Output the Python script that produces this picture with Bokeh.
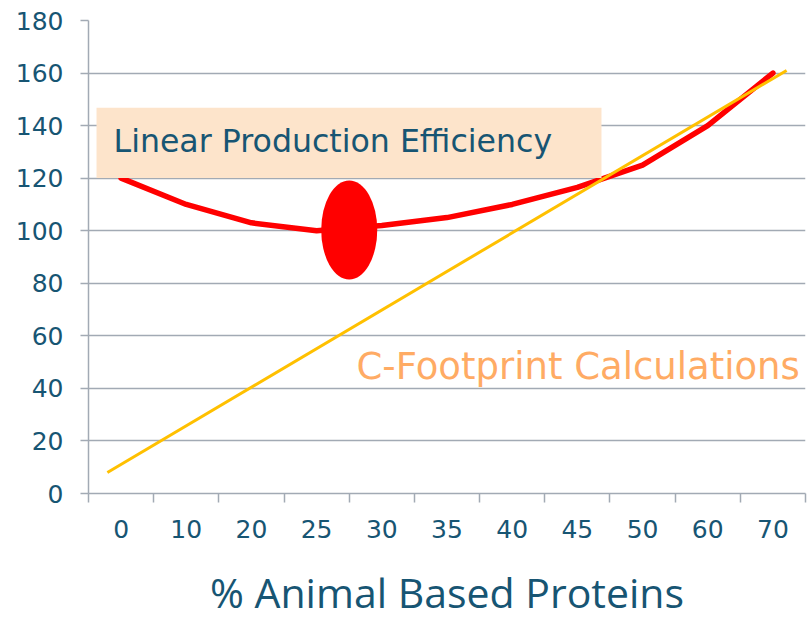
from bokeh.plotting import figure
from bokeh.models import Range1d, FixedTicker, BoxAnnotation, Label
from bokeh.layouts import column
from bokeh.core.properties import value
from bokeh.embed import file_html
from bokeh.resources import INLINE

# ---- data ----
categories = ["0", "10", "20", "25", "30", "35", "40", "45", "50", "60", "70"]
efficiency = [120, 110, 103, 100, 102, 105, 110, 116.5, 125, 140, 160]
footprint_x = [-0.21, 10.21]
footprint_y = [8, 161]
highlight_x = [3.5]
highlight_y = [100.3]
y_ticks = [0, 20, 40, 60, 80, 100, 120, 140, 160, 180]
x_title = "% Animal Based Proteins"

TEAL = "#175573"
GRID = "#A2AAB4"

idx = list(range(len(categories)))

p = figure(width=812, height=555, output_backend="svg", toolbar_location=None,
           x_range=Range1d(-0.5, len(categories) - 0.5), y_range=Range1d(0, 180),
           min_border_left=88, min_border_right=7, min_border_top=20,
           min_border_bottom=62)
p.outline_line_color = None
p.xgrid.visible = False
p.ygrid.ticker = FixedTicker(ticks=y_ticks)
p.ygrid.grid_line_color = GRID
p.ygrid.grid_line_width = 1.5

# x axis: labels at category centres, tick marks at category boundaries
xa = p.xaxis[0]
xa.ticker = FixedTicker(ticks=idx, minor_ticks=[i - 0.5 for i in range(len(categories) + 1)])
xa.major_label_overrides = {i: c for i, c in zip(idx, categories)}
xa.major_tick_out = 0
xa.major_tick_in = 0
xa.major_tick_line_color = None
xa.minor_tick_out = 9
xa.minor_tick_in = 0
xa.minor_tick_line_color = GRID
xa.minor_tick_line_width = 1.5
xa.axis_line_color = GRID
xa.axis_line_width = 1.5
xa.major_label_text_font = "DejaVu Sans"
xa.major_label_text_font_size = "25px"
xa.major_label_text_color = TEAL
xa.major_label_standoff = 17

ya = p.yaxis[0]
ya.ticker = FixedTicker(ticks=y_ticks)
ya.major_tick_out = 8
ya.major_tick_in = 0
ya.major_tick_line_color = GRID
ya.major_tick_line_width = 1.5
ya.minor_tick_line_color = None
ya.axis_line_color = GRID
ya.axis_line_width = 1.5
ya.major_label_text_font = "DejaVu Sans"
ya.major_label_text_font_size = "25px"
ya.major_label_text_color = TEAL
ya.major_label_standoff = 17

p.line(idx, efficiency, line_color="#FF0000", line_width=5.5, line_join="round", line_cap="round")
p.line(footprint_x, footprint_y, line_color="#FFC000", line_width=3)
p.ellipse(x=highlight_x, y=highlight_y, width=0.86, height=37.7,
          fill_color="#FF0000", line_color=None)

box = BoxAnnotation(left=-0.377, right=7.37, bottom=120.05, top=146.8,
                    fill_color="#FDE4CB", fill_alpha=1.0, line_color=None)
p.add_layout(box)

p.add_layout(Label(x=-0.116, y=134.1, text="Linear Production Efficiency",
                   text_font="DejaVu Sans", text_font_size="31.6px",
                   text_color=TEAL, text_baseline="alphabetic"))
p.add_layout(Label(x=3.612, y=48.3, text="C-Footprint Calculations",
                   text_font="DejaVu Sans", text_font_size="37px",
                   text_color="#FFAB64", text_baseline="alphabetic"))

# axis title strip below the chart (its frame aligns with the chart's frame)
tf = figure(width=812, height=64, output_backend="svg", toolbar_location=None,
            x_range=Range1d(-0.5, len(categories) - 0.5), y_range=Range1d(64, 0),
            x_axis_type=None, y_axis_type=None,
            min_border_left=0, min_border_right=0, min_border_top=0, min_border_bottom=0)
tf.outline_line_color = None
tf.xgrid.visible = False
tf.ygrid.visible = False
tf.text(x=[5.0], y=[36], text=[x_title], text_font=value("Open Sans"),
        text_font_size=value("41px"), text_color=TEAL, text_align="center",
        text_baseline="alphabetic")

layout = column(p, tf, spacing=0)
open("out.html", "w").write(file_html(layout, INLINE))
